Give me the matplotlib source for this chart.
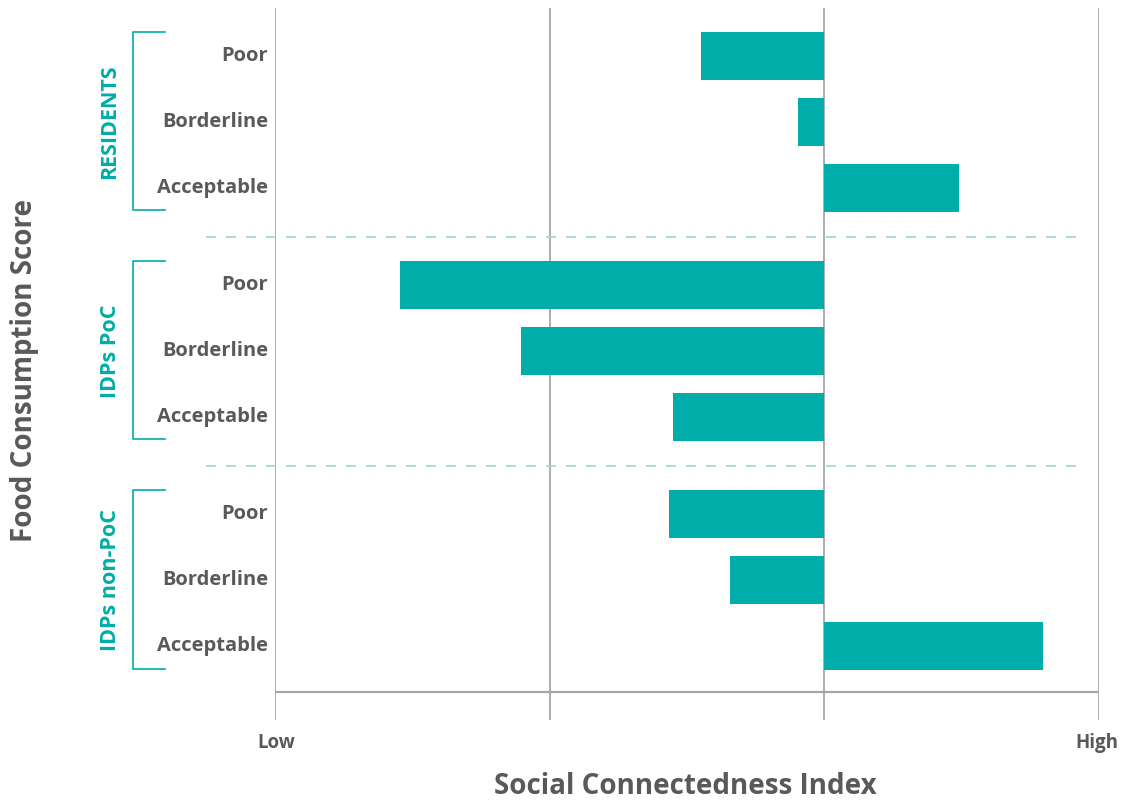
import matplotlib.pyplot as plt
from matplotlib import transforms

groups = ["RESIDENTS", "IDPs PoC", "IDPs non-PoC"]
levels = ["Poor", "Borderline", "Acceptable"]
# social connectedness score relative to the centre line (axis runs Low=-2 .. High=1)
residents = [-0.45, -0.095, 0.49]
idps_poc = [-1.545, -1.105, -0.55]
idps_non_poc = [-0.565, -0.345, 0.795]
values = [residents, idps_poc, idps_non_poc]

teal = "#00ada8"
grey_text = "#58595b"
grid_grey = "#a6a6a6"

plt.rcParams["font.family"] = ["Open Sans", "DejaVu Sans"]

fig = plt.figure(figsize=(11.24, 8.01), dpi=100)
W, H = 1124, 801
ax = fig.add_axes([275 / W, 1 - 720 / H, (1099 - 275) / W, (720 - 8) / H])

stride = 2 + 1.47
ypos = []
for g in range(len(groups)):
    ys = [g * stride + i for i in range(len(levels))]
    ypos.append(ys)
    ax.barh(ys, values[g], left=0, height=0.73, color=teal, zorder=3)

ax.set_xlim(-2, 1)
ax.set_ylim(10.06, -0.727)

for x in [-2, -1, 0, 1]:
    ax.axvline(x, color=grid_grey, lw=1.3, zorder=1)
ax.plot([-2, 1], [9.636, 9.636], color=grid_grey, lw=1.6, zorder=2)

for g in range(len(groups) - 1):
    yd = (ypos[g][-1] + ypos[g + 1][0]) / 2
    ax.plot([-2.25, 0.92], [yd, yd], color="#9fd5d3", lw=1.2,
            dashes=(6, 6), clip_on=False, zorder=2)

for s in ax.spines.values():
    s.set_visible(False)
ax.set_xticks([])
ax.set_yticks([])

trans = transforms.blended_transform_factory(fig.transFigure, ax.transData)
for g, name in enumerate(groups):
    ys = ypos[g]
    for y, lab in zip(ys, levels):
        ax.text(268 / W, y, lab, transform=trans, ha="right", va="center",
                fontsize=14.5, fontweight="bold", color=grey_text)
    top, bot = ys[0] - 0.36, ys[-1] + 0.34
    x0, x1 = 133 / W, 165 / W
    ax.plot([x1, x0, x0, x1], [top, top, bot, bot], color=teal, lw=1.2,
            transform=trans, clip_on=False)
    ax.text(110 / W, ys[1], name, transform=trans, rotation=90,
            ha="center", va="center", fontsize=15.5, fontweight="bold", color=teal)

fig.text(276 / W, 1 - 743 / H, "Low", ha="center", va="center",
         fontsize=13.5, fontweight="bold", color=grey_text)
fig.text(1097 / W, 1 - 743 / H, "High", ha="center", va="center",
         fontsize=13.5, fontweight="bold", color=grey_text)
fig.text(685 / W, 1 - 787 / H, "Social Connectedness Index", ha="center",
         va="center", fontsize=20, fontweight="bold", color=grey_text)
fig.text(25 / W, 1 - 371 / H, "Food Consumption Score", ha="center",
         va="center", rotation=90, fontsize=20, fontweight="bold", color=grey_text)

fig.savefig("out.png", dpi=100)
